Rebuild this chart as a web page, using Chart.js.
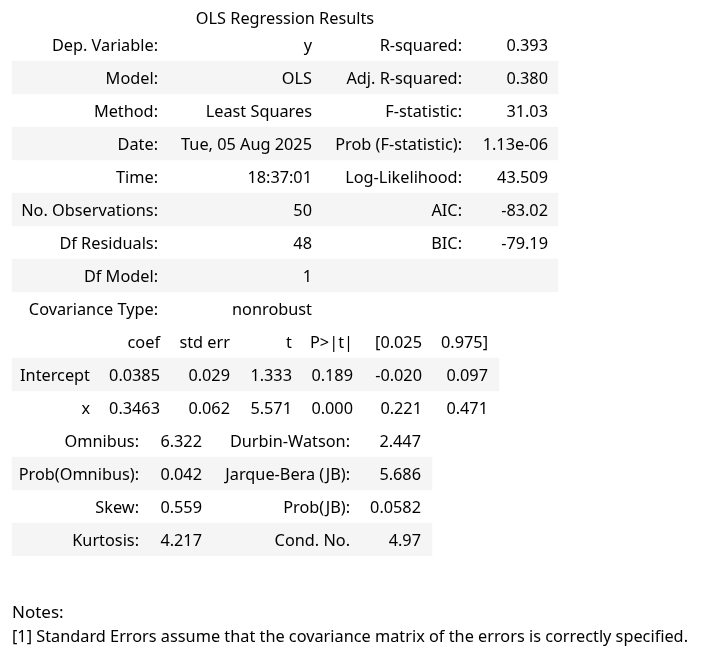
<!DOCTYPE html>
<html lang="en">
<head>
  <meta charset="UTF-8">
  <title>OLS Regression Results</title>
  <script src="https://cdn.jsdelivr.net/npm/chart.js"></script>
  <style>
    html, body { margin: 0; padding: 0; background: #fff; }
    #wrap { width: 702px; height: 655px; position: relative; }
  </style>
</head>
<body>
  <div id="wrap"><canvas id="summary"></canvas></div>

  <script>
    // --- data read from the summary ---
    const title = 'OLS Regression Results';

    const modelLabelsLeft = ['Dep. Variable:', 'Model:', 'Method:', 'Date:', 'Time:',
      'No. Observations:', 'Df Residuals:', 'Df Model:', 'Covariance Type:'];
    const modelValuesLeft = ['y', 'OLS', 'Least Squares', 'Tue, 05 Aug 2025', '18:37:01',
      '50', '48', '1', 'nonrobust'];
    const modelLabelsRight = ['R-squared:', 'Adj. R-squared:', 'F-statistic:', 'Prob (F-statistic):',
      'Log-Likelihood:', 'AIC:', 'BIC:', '', ''];
    const modelValuesRight = ['0.393', '0.380', '31.03', '1.13e-06', '43.509', '-83.02', '-79.19', '', ''];

    const coefHeader = ['', 'coef', 'std err', 't', 'P>|t|', '[0.025', '0.975]'];
    const coefTerms = ['Intercept', 'x'];
    const coefValues = [
      ['0.0385', '0.029', '1.333', '0.189', '-0.020', '0.097'],
      ['0.3463', '0.062', '5.571', '0.000', '0.221', '0.471']
    ];

    const diagLabelsLeft = ['Omnibus:', 'Prob(Omnibus):', 'Skew:', 'Kurtosis:'];
    const diagValuesLeft = ['6.322', '0.042', '0.559', '4.217'];
    const diagLabelsRight = ['Durbin-Watson:', 'Jarque-Bera (JB):', 'Prob(JB):', 'Cond. No.'];
    const diagValuesRight = ['2.447', '5.686', '0.0582', '4.97'];

    const notes = ['Notes:',
      '[1] Standard Errors assume that the covariance matrix of the errors is correctly specified.'];

    // --- layout (right edges of the columns, in px of the x scale) ---
    const colsModel = [158, 312, 462, 548];
    const colsCoef = [90, 160, 230, 292, 353, 422, 488];
    const colsDiag = [139, 202, 350, 421];
    const tableRight = [558, 499, 432];
    const FONT = '16.3px "Noto Sans", sans-serif';
    const NOTE_FONT = '17px "Noto Sans", sans-serif';
    const INK = '#000';
    const STRIPE = '#f5f5f5';

    // one category per table row
    const rows = [];
    modelLabelsLeft.forEach((_, i) => rows.push({ table: 0, i }));
    rows.push({ table: 1, i: -1 });
    coefTerms.forEach((_, i) => rows.push({ table: 1, i }));
    diagLabelsLeft.forEach((_, i) => rows.push({ table: 2, i }));

    // every second row inside a table gets the grey band
    const stripes = rows.map(r => {
      const k = r.table === 1 ? r.i + 1 : r.i;
      return k % 2 === 1 ? [12, tableRight[r.table]] : null;
    });

    const textPlugin = {
      id: 'summaryText',
      afterDatasetsDraw(chart) {
        const { ctx, scales: { x, y } } = chart;
        ctx.save();
        ctx.font = FONT;
        ctx.fillStyle = INK;
        ctx.textBaseline = 'middle';

        const cells = (rowIdx, texts, cols) => {
          ctx.textAlign = 'right';
          const py = y.getPixelForValue(rowIdx) + 2;
          texts.forEach((t, c) => { if (t) ctx.fillText(t, x.getPixelForValue(cols[c]), py); });
        };

        rows.forEach((r, idx) => {
          if (r.table === 0) {
            cells(idx, [modelLabelsLeft[r.i], modelValuesLeft[r.i], modelLabelsRight[r.i], modelValuesRight[r.i]], colsModel);
          } else if (r.table === 1) {
            if (r.i < 0) cells(idx, coefHeader, colsCoef);
            else cells(idx, [coefTerms[r.i], ...coefValues[r.i]], colsCoef);
          } else {
            cells(idx, [diagLabelsLeft[r.i], diagValuesLeft[r.i], diagLabelsRight[r.i], diagValuesRight[r.i]], colsDiag);
          }
        });

        // caption above and notes below the tables
        ctx.textAlign = 'center';
        ctx.fillText(title, x.getPixelForValue((12 + tableRight[0]) / 2), 19);
        ctx.textAlign = 'left';
        ctx.font = NOTE_FONT;
        ctx.fillText(notes[0], x.getPixelForValue(12), 613);
        ctx.fillText(notes[1], x.getPixelForValue(12), 637, 676);
        ctx.restore();
      }
    };

    new Chart(document.getElementById('summary'), {
      type: 'bar',
      data: {
        labels: rows.map((_, i) => String(i)),
        datasets: [{
          data: stripes,
          backgroundColor: STRIPE,
          borderWidth: 0,
          barPercentage: 1,
          categoryPercentage: 1
        }]
      },
      options: {
        indexAxis: 'y',
        responsive: true,
        maintainAspectRatio: false,
        animation: false,
        events: [],
        layout: { padding: { top: 28, bottom: 99, left: 0, right: 0 } },
        scales: {
          x: { type: 'linear', min: 0, max: 702, display: false },
          y: { type: 'category', display: false, grid: { display: false } }
        },
        plugins: {
          legend: { display: false },
          tooltip: { enabled: false }
        }
      },
      plugins: [textPlugin]
    });
  </script>
</body>
</html>
